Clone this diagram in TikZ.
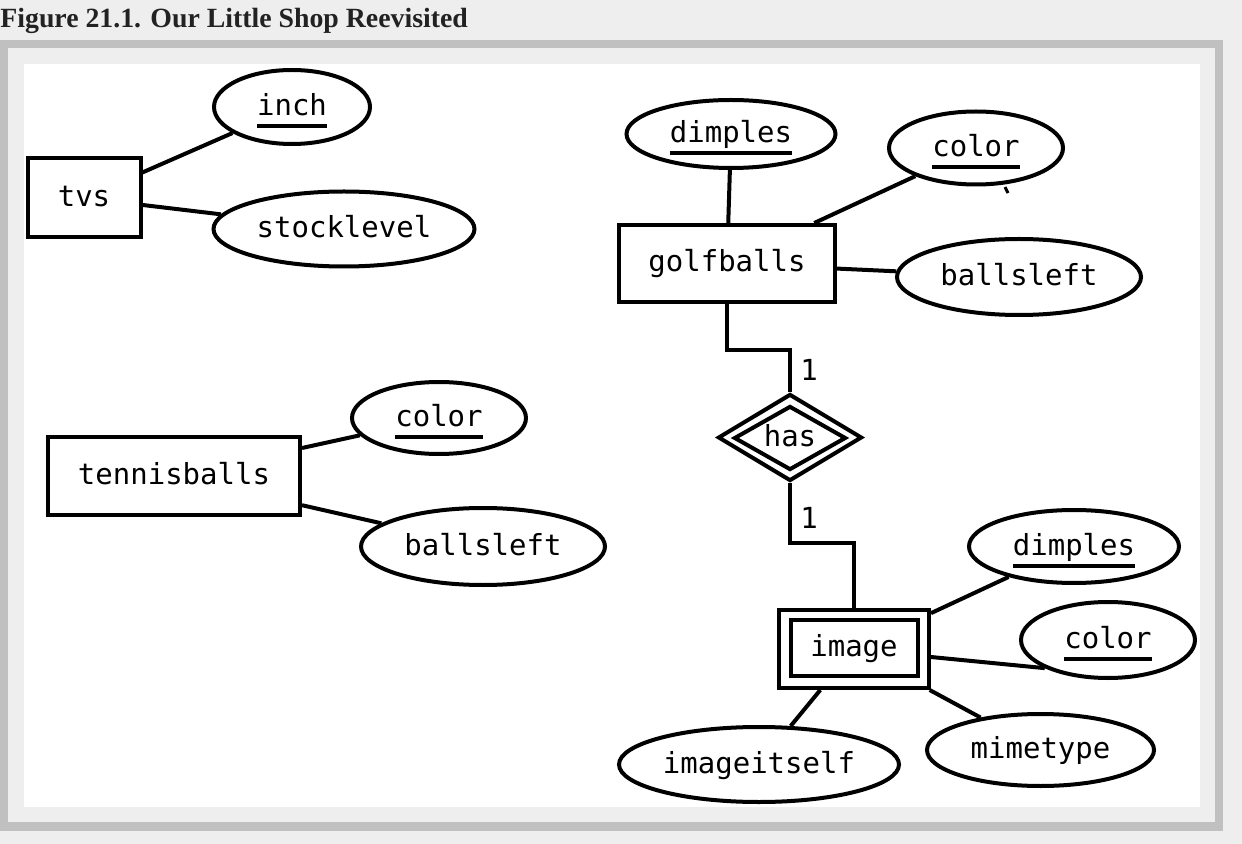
\documentclass[tikz,border=0pt]{standalone}
\usepackage{fontspec}
\setmonofont{DejaVu Sans Mono}
\newfontfamily\titlefont{Liberation Serif}
\usetikzlibrary{shapes.geometric}
\definecolor{bgcol}{HTML}{EEEEEE}
\definecolor{framecol}{HTML}{C0C0C0}
\definecolor{titlecol}{HTML}{222222}
\newsavebox\kbox
\newcommand\keyattr[1]{\sbox\kbox{#1}\rlap{\smash{\raisebox{-6.4pt}{\rule{\wd\kbox}{2.1pt}}}}\usebox\kbox}
\tikzset{
  lbl/.style={font=\ttfamily\fontsize{14.5}{17}\selectfont, text height=10.5pt, text depth=2pt, inner sep=0pt},
  entity/.style={lbl, draw, line width=2pt, rectangle},
  attr/.style={lbl, draw, line width=2pt, ellipse},
  rel/.style={draw, line width=2pt, diamond, inner sep=0pt},
  conn/.style={line width=2pt},
  card/.style={lbl, anchor=center}
}
\begin{document}
\begin{tikzpicture}[x=0.5pt,y=-0.5pt]
\fill[bgcol] (0,0) rectangle (1242,844);
\useasboundingbox (0,0) rectangle (1242,844);
\fill[framecol] (0,40) rectangle (1223,831);
\fill[bgcol] (8,48) rectangle (1215,822);
\fill[white] (24,64) rectangle (1200,807);
\node[anchor=base west, inner sep=0pt, text=titlecol, font=\titlefont\bfseries\fontsize{13.9}{16}\selectfont] (title) at (0,28) {Figure 21.1. Our Little Shop Reevisited};

% tvs
\node[entity, minimum width=56.5pt, minimum height=39.5pt] (tvs) at (84,198) {tvs};
\node[attr, minimum width=78pt, minimum height=37pt] (inch) at (292,107) {\keyattr{inch}};
\node[attr, minimum width=130.5pt, minimum height=37.5pt] (stocklevel) at (344,229) {stocklevel};
\draw[conn] (tvs) -- (inch);
\draw[conn] (tvs) -- (stocklevel);

% tennisballs
\node[entity, minimum width=126pt, minimum height=39pt] (tennisballs) at (174,476) {tennisballs};
\node[attr, minimum width=87pt, minimum height=36pt] (colorC) at (439,418) {\keyattr{color}};
\node[attr, minimum width=122pt, minimum height=38.5pt] (ballsleftB) at (483,546.5) {ballsleft};
\draw[conn] (tennisballs) -- (colorC);
\draw[conn] (tennisballs) -- (ballsleftB);

% golfballs
\node[entity, minimum width=108pt, minimum height=38.5pt] (golfballs) at (727,263.5) {golfballs};
\node[attr, minimum width=104.5pt, minimum height=34pt] (dimplesA) at (731,134) {\keyattr{dimples}};
\node[attr, minimum width=87pt, minimum height=36.5pt] (colorA) at (976,148) {\keyattr{color}};
\node[attr, minimum width=122pt, minimum height=38pt] (ballsleftA) at (1019,277) {ballsleft};
\draw[conn] (golfballs) -- (dimplesA);
\draw[conn] (golfballs) -- (colorA);
\draw[conn] (golfballs) -- (ballsleftA);
\coordinate (tickA) at (1005,187);
\coordinate (tickB) at (1008,193);
\draw[line width=1.5pt] (tickA) -- (tickB);

% has
\node[rel, minimum width=72pt, minimum height=43.5pt] (has) at (790,437.5) {};
\node[rel, minimum width=56pt, minimum height=32pt] (hasin) at (790,438) {};
\node[lbl] (hastext) at (790,438) {has};

% image
\node[entity, minimum width=75pt, minimum height=39pt] (image) at (854,649) {};
\node[entity, minimum width=63.5pt, minimum height=28pt] (imagein) at (854,648) {image};
\node[attr, minimum width=105pt, minimum height=36.5pt] (dimplesB) at (1074,546.5) {\keyattr{dimples}};
\node[attr, minimum width=87pt, minimum height=38pt] (colorB) at (1108,640) {\keyattr{color}};
\node[attr, minimum width=113.5pt, minimum height=36pt] (mimetype) at (1040.5,750) {mimetype};
\node[attr, minimum width=140pt, minimum height=37.5pt] (imageitself) at (759,764.5) {imageitself};
\draw[conn] (image) -- (dimplesB);
\draw[conn] ([yshift=-4pt]image.east) -- (colorB.204);
\draw[conn] (image) -- (mimetype);
\draw[conn] (image) -- (imageitself);

% relationship connectors
\coordinate (bendA) at (0,350);
\coordinate (bendB) at (0,543);
\draw[conn] (golfballs.south) |- (bendA -| has.north) -- (has.north);
\draw[conn] (has.south) |- (bendB -| image.north) -- (image.north);
\node[card] (cardA) at (809,372) {1};
\node[card] (cardB) at (809,520) {1};
\end{tikzpicture}
\end{document}
